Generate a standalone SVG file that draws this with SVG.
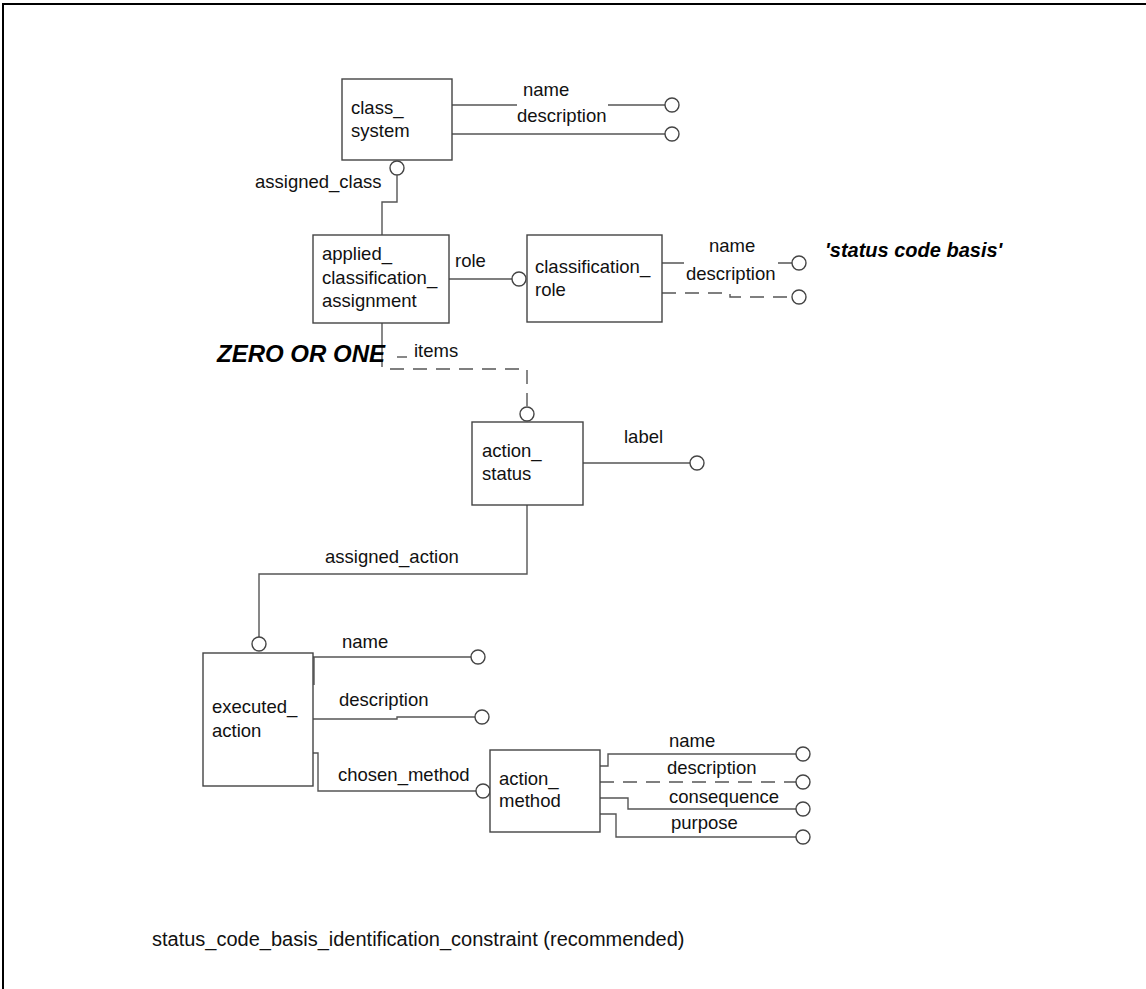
<svg xmlns="http://www.w3.org/2000/svg" width="1146" height="989" viewBox="0 0 1146 989">
  <style>
    .box { fill: #fff; stroke: #444; stroke-width: 1.4; }
    .ln { fill: none; stroke: #555; stroke-width: 1.4; }
    .dash { fill: none; stroke: #555; stroke-width: 1.4; stroke-dasharray: 14 9; }
    .end { fill: #fff; stroke: #444; stroke-width: 1.4; }
    text { font-family: "Liberation Sans", Arial, sans-serif; font-size: 18.5px; fill: #111; }
    .note { font-weight: bold; font-style: italic; fill: #000; }
    .title { font-size: 20px; }
  </style>

  <rect x="3" y="4" width="1170" height="1010" fill="none" stroke="#000" stroke-width="2"/>

  <!-- relationship and attribute lines -->
  <g id="connectors">
    <!-- class_system attributes -->
    <path class="ln" d="M452 105 H517 M608 105 H665"/>
    <path class="ln" d="M452 134 H665"/>
    <circle class="end" cx="672" cy="105" r="7"/>
    <circle class="end" cx="672" cy="134" r="7"/>
    <!-- assigned_class -->
    <circle class="end" cx="397" cy="168" r="7"/>
    <path class="ln" d="M397 175 V202 H382 V235"/>
    <!-- role -->
    <path class="ln" d="M449 279 H512"/>
    <circle class="end" cx="519" cy="279" r="7"/>
    <!-- classification_role attributes -->
    <path class="ln" d="M662 263 H684 M778 263 H792"/>
    <circle class="end" cx="799" cy="263" r="7"/>
    <path class="dash" d="M662 293 H730 V297 H792"/>
    <circle class="end" cx="799" cy="297" r="7"/>
    <!-- items -->
    <path class="ln" d="M382 323 V367"/>
    <path class="ln" d="M397 357 H407"/>
    <path class="dash" d="M390 369 H527 V406"/>
    <circle class="end" cx="527" cy="414" r="7"/>
    <!-- action_status label -->
    <path class="ln" d="M583 463 H690"/>
    <circle class="end" cx="697" cy="463" r="7"/>
    <!-- assigned_action -->
    <path class="ln" d="M527 505 V574 H259 V637"/>
    <circle class="end" cx="259" cy="644" r="7"/>
    <!-- executed_action attributes -->
    <path class="ln" d="M314 657 V685"/>
    <path class="ln" d="M313 657 H471"/>
    <circle class="end" cx="478" cy="657" r="7"/>
    <path class="ln" d="M313 719 H397 V717 H475"/>
    <circle class="end" cx="482" cy="717" r="7"/>
    <!-- chosen_method -->
    <path class="ln" d="M313 753 H318 V791 H476"/>
    <circle class="end" cx="483" cy="791" r="7"/>
    <!-- action_method attributes -->
    <path class="ln" d="M600 766 H608 V754 H796"/>
    <circle class="end" cx="803" cy="754" r="7"/>
    <path class="dash" d="M600 782 H796"/>
    <circle class="end" cx="803" cy="782" r="7"/>
    <path class="ln" d="M600 798 H628 V809 H796"/>
    <circle class="end" cx="803" cy="809" r="7"/>
    <path class="ln" d="M600 814 H616 V837 H796"/>
    <circle class="end" cx="803" cy="837" r="7"/>
  </g>

  <!-- line labels -->
  <g id="labels">
    <text x="523" y="96">name</text>
    <text x="517" y="122">description</text>
    <text x="255" y="188">assigned_class</text>
    <text x="455" y="267">role</text>
    <text x="709" y="252">name</text>
    <text x="686" y="280">description</text>
    <text class="note" x="825" y="257" style="font-size:20px">'status code basis'</text>
    <text class="note" x="217" y="362" style="font-size:24px">ZERO OR ONE</text>
    <text x="414" y="357">items</text>
    <text x="624" y="443">label</text>
    <text x="325" y="563">assigned_action</text>
    <text x="342" y="648">name</text>
    <text x="339" y="706">description</text>
    <text x="338" y="781">chosen_method</text>
    <text x="669" y="747">name</text>
    <text x="667" y="774">description</text>
    <text x="669" y="803">consequence</text>
    <text x="671" y="829">purpose</text>
  </g>

  <g id="class_system">
    <rect class="box" x="342" y="79" width="110" height="81"/>
    <text x="351" y="114">class_</text>
    <text x="351" y="137">system</text>
  </g>

  <g id="applied_classification_assignment">
    <rect class="box" x="313" y="235" width="136" height="88"/>
    <text x="322" y="260">applied_</text>
    <text x="322" y="284">classification_</text>
    <text x="322" y="307">assignment</text>
  </g>

  <g id="classification_role">
    <rect class="box" x="527" y="235" width="135" height="87"/>
    <text x="535" y="273">classification_</text>
    <text x="535" y="296">role</text>
  </g>

  <g id="action_status">
    <rect class="box" x="472" y="422" width="111" height="83"/>
    <text x="482" y="457">action_</text>
    <text x="482" y="480">status</text>
  </g>

  <g id="executed_action">
    <rect class="box" x="203" y="653" width="110" height="133"/>
    <text x="212" y="713">executed_</text>
    <text x="212" y="737">action</text>
  </g>

  <g id="action_method">
    <rect class="box" x="490" y="750" width="110" height="82"/>
    <text x="499" y="785">action_</text>
    <text x="499" y="807">method</text>
  </g>

  <text class="title" x="152" y="946">status_code_basis_identification_constraint (recommended)</text>
</svg>
